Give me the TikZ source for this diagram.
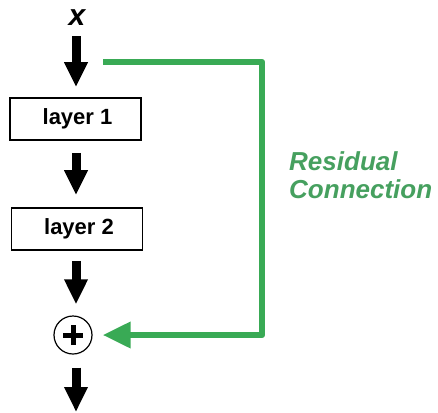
\documentclass[tikz,border=0pt]{standalone}
\usepackage{fontspec}
\setmainfont{Liberation Sans}
\usetikzlibrary{arrows.meta}
\definecolor{resgreen}{RGB}{57,170,85}
\definecolor{restext}{RGB}{70,160,95}
\begin{document}
\begin{tikzpicture}[
    x=1pt, y=-1pt,
    layerbox/.style={draw, line width=1.6pt, minimum width=131pt, minimum height=42pt, inner sep=0pt, font=\fontsize{22}{26}\selectfont\bfseries},
    downarrow/.style={line width=9pt, -{Triangle[length=25pt, width=22pt]}},
    resline/.style={resgreen, line width=6.5pt, line join=round, -{Triangle[length=28pt, width=25pt]}},
]
\useasboundingbox (0,0) rectangle (438,412);

% Main path
\node[font=\fontsize{30}{30}\selectfont\bfseries\itshape, inner sep=0pt] (input) at (77,18) {x};
\node[layerbox] (layerA) at (75.5,119) {\hspace*{4pt}layer 1};
\node[layerbox] (layerB) at (77,229) {\hspace*{4pt}layer 2};
\node[circle, draw, line width=1.2pt, minimum size=38pt, inner sep=0pt] (plus) at (73,335) {};
\coordinate (output) at (76,412);

% Plus sign
\draw[line width=5pt] ([xshift=-10pt]plus.center) -- ([xshift=10pt]plus.center);
\draw[line width=5pt] ([yshift=-10pt]plus.center) -- ([yshift=10pt]plus.center);

% Arrows between stages
\draw[downarrow, shorten <=10pt, shorten >=10pt] (input.south -| 76,0) -- (layerA.north -| 76,0);
\draw[downarrow, shorten <=12pt, shorten >=12pt] (layerA.south -| 76,0) -- (layerB.north -| 76,0);
\draw[downarrow, shorten <=10pt, shorten >=11pt] (layerB.south -| 76,0) -- (plus.north -| 76,0);
\draw[downarrow, shorten <=13pt] (plus.south -| 76,0) -- (output);

% Residual connection
\coordinate (branch) at (103,62);
\coordinate (turn) at (262,62);
\draw[resline, shorten >=10pt] (branch) -- (turn) |- (plus.east);

% Label
\node[anchor=north west, inner sep=0pt, align=left, text=restext,
      font=\fontsize{26}{28}\selectfont\bfseries\itshape] (reslabel) at (289,151) {Residual\\Connection};
\end{tikzpicture}
\end{document}
